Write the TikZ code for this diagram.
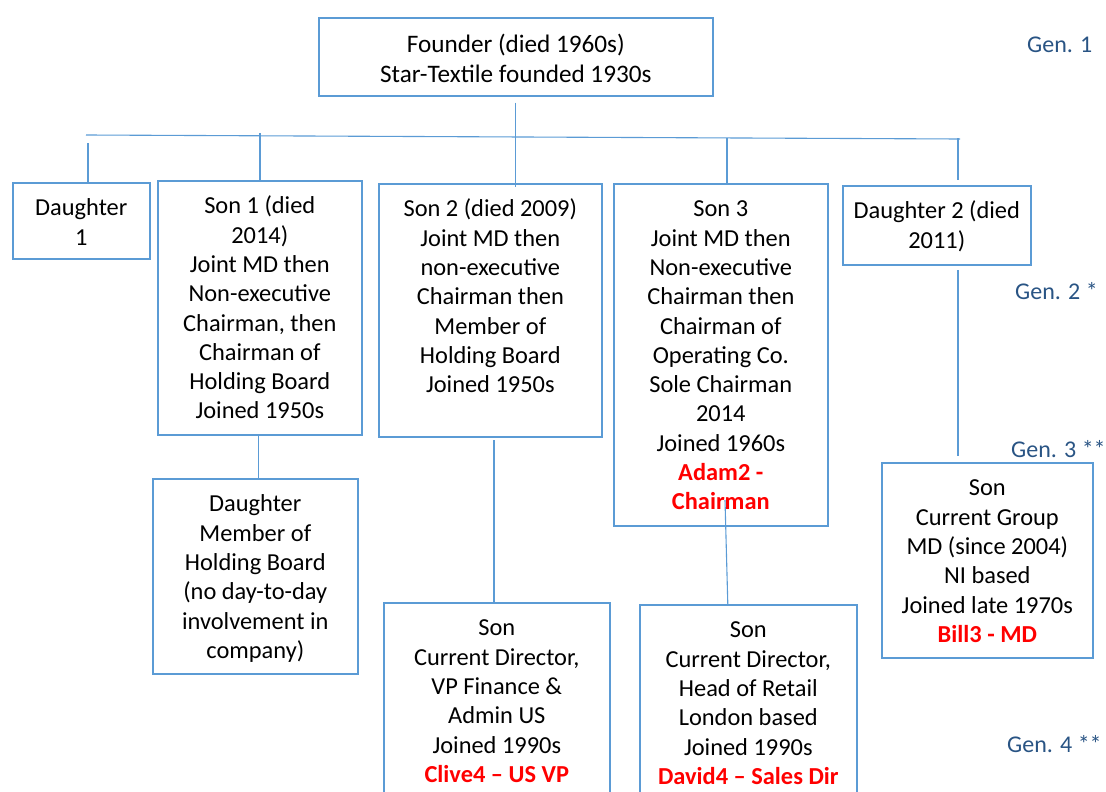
\documentclass[tikz,border=0pt]{standalone}
\usepackage{fontspec}
\setmainfont{Carlito}
\usetikzlibrary{calc}
\definecolor{boxblue}{RGB}{91,155,213}
\definecolor{genblue}{RGB}{41,84,132}
\definecolor{namered}{RGB}{255,0,0}
% top-aligned, centred text block of a given width and height
\newcommand\famtext[4][33]{\parbox[c][#3pt][t]{#2pt}{\centering\rule{0pt}{#1pt}#4}}
\newcommand\who[1]{\textcolor{namered}{\bfseries #1}}
\begin{document}
\begin{tikzpicture}[x=1pt,y=-1pt,
  famBox/.style={draw=boxblue, line width=1.6pt, inner sep=0pt, anchor=north west,
    font=\fontsize{24.4}{29.3}\selectfont},
  link/.style={draw=boxblue, line width=1.1pt},
  genLabel/.style={text=genblue, inner sep=0pt, anchor=base west,
    font=\fontsize{24}{29}\selectfont}]
\useasboundingbox (0,0) rectangle (1106,792);
\clip (0,0) rectangle (1106,792);

% generation 1
\node[famBox] (founder) at (318,17)
  {\famtext[35]{394}{78}{\fontsize{25.2}{30}\selectfont Founder (died 1960s)\\Star-Textile founded 1930s}};

% generation 2
\node[famBox] (dau1) at (12,182) {\famtext{137}{76}{Daughter\\1}};
\node[famBox] (son1) at (157,180) {\famtext{204}{254}{Son 1 (died\\2014)\\Joint MD then\\Non-executive\\Chairman, then\\Chairman of\\Holding Board\\Joined 1950s}};
\node[famBox] (son2) at (378,183) {\famtext{223}{253}{Son 2 (died 2009)\\Joint MD then\\non-executive\\Chairman then\\Member of\\Holding Board\\Joined 1950s}};
\node[famBox] (son3) at (613,183) {\famtext{214}{342}{Son 3\\Joint MD then\\Non-executive\\Chairman then\\Chairman of\\Operating Co.\\Sole Chairman\\2014\\Joined 1960s\\\who{Adam2 -}\\\who{Chairman}}};
\node[famBox] (dau2) at (842,185) {\famtext{188}{79}{Daughter 2 (died\\2011)}};

% generation 3
\node[famBox] (dau3) at (152,478) {\famtext{205}{195}{Daughter\\Member of\\Holding Board\\(no day-to-day\\involvement in\\company)}};
\node[famBox] (bill) at (881,462) {\famtext{211}{195}{Son\\Current Group\\MD (since 2004)\\NI based\\Joined late 1970s\\\who{Bill3 - MD}}};

% generation 4
\node[famBox] (clive) at (383,602) {\famtext{226}{210}{Son\\Current Director,\\VP Finance \&\\Admin US\\Joined 1990s\\\who{Clive4 -- US VP}}};
\node[famBox] (david) at (639,604) {\famtext{217}{210}{Son\\Current Director,\\Head of Retail\\London based\\Joined 1990s\\\who{David4 -- Sales Dir}}};

% family bar and drops
\coordinate (barL) at (86,135);
\coordinate (barR) at (960,139);
\draw[link] (barL) -- (barR);
\draw[link] ([yshift=-6pt]founder.south) -- ($(founder.south |- son2.north)+(0,4)$);
\coordinate (d1) at (88,143);
\coordinate (s1) at (260,133);
\coordinate (s3) at (727,138);
\coordinate (d2) at (958,138);
\draw[link] (d1) -- (d1 |- dau1.north);
\draw[link] (s1) -- (s1 |- son1.north);
\draw[link] (s3) -- (s3 |- son3.north);
\draw[link] (d2) -- ($(d2 |- dau2.north)+(0,-5)$);

% descendants
\draw[link] ([xshift=-1pt]son1.south) -- ([xshift=-1pt]son1.south |- dau3.north);
\coordinate (s2c) at (494,440);
\draw[link] (s2c) -- (s2c |- clive.north);
\coordinate (s3d) at (725,500);
\draw[link] (s3d) -- ($(david.north)+(-20.5,0)$);
\coordinate (d2b) at (958,270);
\draw[link] (d2b) -- ($(d2b |- bill.north)+(0,-6)$);

% generation labels
\node[genLabel] (g1) at (1027,53) {Gen. 1};
\node[genLabel] (g2) at (1015,299) {Gen. 2 *};
\node[genLabel] (g3) at (1011,457) {Gen. 3 **};
\node[genLabel] (g4) at (1007,752) {Gen. 4 **};
\end{tikzpicture}
\end{document}
